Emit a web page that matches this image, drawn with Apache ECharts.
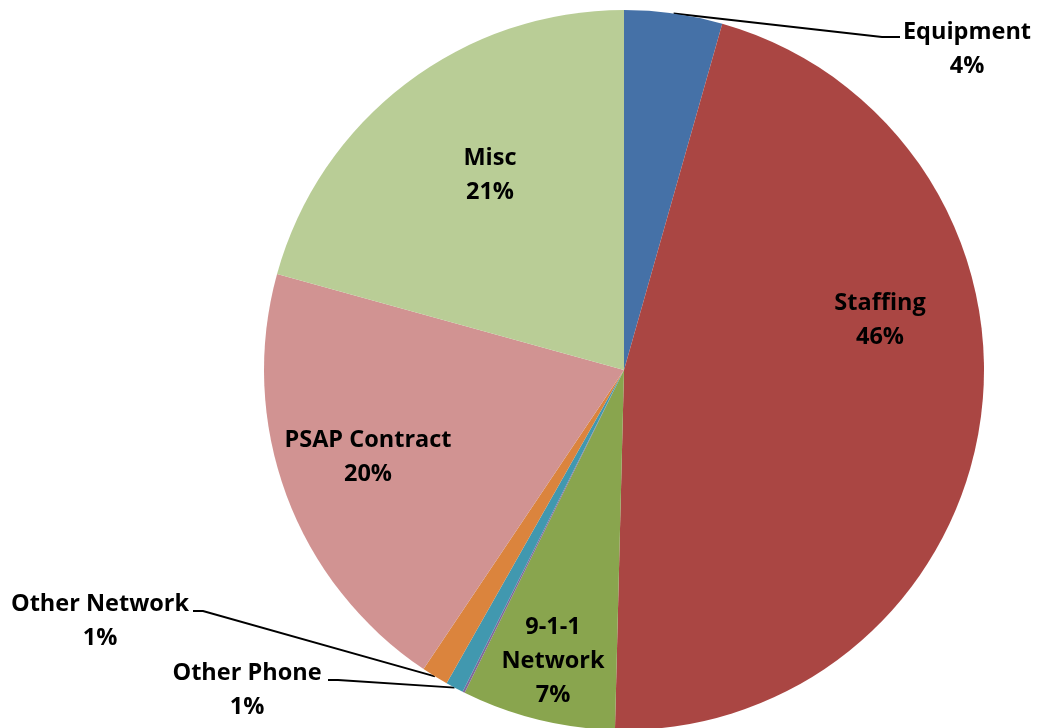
<!DOCTYPE html>
<html>
<head>
<meta charset="utf-8">
<script src="https://cdn.jsdelivr.net/npm/echarts@6/dist/echarts.min.js"></script>
<style>
html, body { margin: 0; padding: 0; background: #fff; }
#chart { width: 1042px; height: 728px; }
</style>
</head>
<body>
<div id="chart"></div>
<script>
var names = ['Equipment', 'Staffing', '9-1-1 Network', 'Other', 'Other Phone', 'Other Network', 'PSAP Contract', 'Misc'];
var values = [4.4, 46.0, 6.9, 0.1, 0.8, 1.2, 19.9, 20.7];
var colors = ['#4571A7', '#AA4643', '#89A54E', '#80699B', '#4198AF', '#DB843D', '#D19392', '#B9CD96'];
var outsideNames = ['Equipment', 'Other Phone', 'Other Network'];

// where excel put the labels (label centre) and the bend of the leader lines
var labelSpots = {
    'Equipment': [967, 49],
    'Staffing': [880, 320],
    '9-1-1 Network': [553, 661],
    'Other Phone': [247, 690],
    'Other Network': [100, 621],
    'PSAP Contract': [368, 457],
    'Misc': [490, 175]
};
var lineBends = {
    'Equipment': [[882, 37], [900, 37]],
    'Other Network': [[203, 611], [193, 611]],
    'Other Phone': [[338, 680], [328, 680]]
};

var myChart = echarts.init(document.getElementById('chart'));

var data = names.map(function (n, i) {
    var item = {name: n, value: values[i], itemStyle: {color: colors[i]}};
    if (n === 'Other') {
        item.label = {show: false};
        item.labelLine = {show: false};
    } else if (outsideNames.indexOf(n) < 0) {
        item.label = {position: 'inside'};
        item.labelLine = {show: false};
    }
    return item;
});

var option = {
    animation: false,
    series: [
        {
            type: 'pie',
            center: [624, 370],
            radius: [0, 360],
            startAngle: 90,
            clockwise: true,
            avoidLabelOverlap: false,
            itemStyle: {borderWidth: 0},
            label: {
                show: true,
                position: 'outside',
                color: '#000',
                fontFamily: 'Open Sans',
                fontWeight: 'bold',
                fontSize: 23.5,
                lineHeight: 34,
                align: 'center',
                formatter: function (p) {
                    var n = p.name === '9-1-1 Network' ? '9-1-1\nNetwork' : p.name;
                    return n + '\n' + Math.round(p.percent) + '%';
                }
            },
            labelLine: {
                show: true,
                length: 20,
                length2: 10,
                lineStyle: {color: '#000', width: 2}
            },
            labelLayout: function (params) {
                var n = names[params.dataIndex];
                var spot = labelSpots[n];
                if (!spot) return {};
                var out = {x: spot[0], y: spot[1], align: 'center', verticalAlign: 'middle'};
                var bend = lineBends[n];
                if (bend && params.labelLinePoints) {
                    out.labelLinePoints = [params.labelLinePoints[0], bend[0], bend[1]];
                }
                return out;
            },
            data: data
        }
    ]
};

myChart.setOption(option);
</script>
</body>
</html>
